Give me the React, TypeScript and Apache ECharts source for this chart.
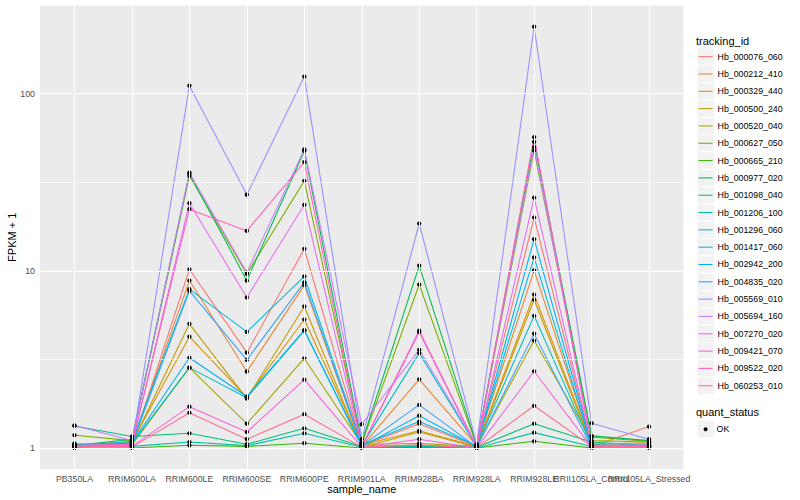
import React, { useEffect, useRef } from "react";
import * as echarts from "echarts";

const categories = [
  "PB350LA", "RRIM600LA", "RRIM600LE", "RRIM600SE", "RRIM600PE", "RRIM901LA",
  "RRIM928BA", "RRIM928LA", "RRIM928LE", "RRII105LA_Control", "RRII105LA_Stressed",
];

const trackingIds = [
  "Hb_000076_060", "Hb_000212_410", "Hb_000329_440", "Hb_000500_240", "Hb_000520_040",
  "Hb_000627_050", "Hb_000665_210", "Hb_000977_020", "Hb_001098_040", "Hb_001206_100",
  "Hb_001296_060", "Hb_001417_060", "Hb_002942_200", "Hb_004835_020", "Hb_005569_010",
  "Hb_005694_160", "Hb_007270_020", "Hb_009421_070", "Hb_009522_020", "Hb_060253_010",
];

const colors = [
  "#F8766D", "#EA8331", "#D89000", "#C09B00", "#A3A500", "#7CAE00", "#39B600", "#00BB4E",
  "#00BF7D", "#00C1A3", "#00BFC4", "#00BAE0", "#00B0F6", "#35A2FF", "#9590FF", "#C77CFF",
  "#E76BF3", "#FA62DB", "#FF62BC", "#FF6C91",
];

// FPKM + 1 per sample (order = categories)
const hb000076 = [1.02, 1.03, 10.2, 3.45, 13.3, 1.03, 1.37, 1.02, 20.0, 1.02, 1.32];
const hb000212 = [1.03, 1.05, 8.81, 2.70, 8.3, 1.02, 2.44, 1.03, 10.05, 1.04, 1.02];
const hb000329 = [1.04, 1.08, 4.25, 1.93, 5.31, 1.04, 1.25, 1.02, 7.35, 1.05, 1.07];
const hb000500 = [1.01, 1.06, 5.02, 1.90, 6.29, 1.01, 1.23, 1.01, 6.86, 1.03, 1.05];
const hb000520 = [1.05, 1.04, 2.84, 1.37, 3.20, 1.05, 1.06, 1.02, 4.04, 1.10, 1.08];
const hb000627 = [1.18, 1.10, 34.4, 9.6, 32.2, 1.06, 8.37, 1.03, 47.8, 1.15, 1.09];
const hb000665 = [1.00, 1.00, 1.035, 1.02, 1.063, 1.00, 1.01, 1.00, 1.09, 1.00, 1.00];
const hb000977 = [1.03, 1.12, 35.3, 8.8, 47.5, 1.07, 10.7, 1.04, 53.5, 1.17, 1.10];
const hb001098 = [1.33, 1.16, 1.21, 1.05, 1.29, 1.02, 1.03, 1.01, 1.37, 1.08, 1.03];
const hb001206 = [1.02, 1.02, 1.08, 1.03, 1.21, 1.01, 1.02, 1.00, 1.22, 1.02, 1.01];
const hb001296 = [1.04, 1.06, 2.84, 1.92, 4.60, 1.03, 3.43, 1.02, 5.57, 1.03, 1.04];
const hb001417 = [1.02, 1.09, 7.88, 4.52, 9.29, 1.04, 1.41, 1.03, 11.9, 1.02, 1.03];
const hb002942 = [1.03, 1.07, 3.23, 1.95, 4.62, 1.02, 1.52, 1.02, 15.1, 1.04, 1.02];
const hb004835 = [1.01, 1.05, 7.7, 3.14, 8.6, 1.03, 1.75, 1.01, 4.42, 1.01, 1.02];
const hb005569 = [1.06, 1.03, 111, 26.9, 125, 1.12, 18.5, 1.05, 239, 1.38, 1.12];
const hb005694 = [1.34, 1.10, 35.8, 9.78, 48.5, 1.36, 3.58, 1.04, 50.0, 1.06, 1.05];
const hb007270 = [1.02, 1.04, 24.1, 7.07, 23.6, 1.02, 4.50, 1.01, 25.9, 1.03, 1.03];
const hb009421 = [1.01, 1.02, 1.71, 1.23, 2.43, 1.01, 1.12, 1.00, 2.71, 1.01, 1.01];
const hb009522 = [1.03, 1.05, 22.3, 16.8, 41.1, 1.02, 4.60, 1.02, 56.9, 1.02, 1.02];
const hb060253 = [1.02, 1.01, 1.58, 1.12, 1.55, 1.01, 1.04, 1.00, 1.73, 1.02, 1.01];

const seriesValues = [
  hb000076, hb000212, hb000329, hb000500, hb000520, hb000627, hb000665, hb000977, hb001098, hb001206,
  hb001296, hb001417, hb002942, hb004835, hb005569, hb005694, hb007270, hb009421, hb009522, hb060253,
];

const yMajorTicks = [1, 10, 100];
const yMinorTicks = [3.16228, 31.6228];

const FONT = "'Liberation Sans', Arial, Helvetica, sans-serif";

export default function App() {
  const ref = useRef<HTMLDivElement>(null);

  useEffect(() => {
    const chart = echarts.init(ref.current as HTMLDivElement, null, { renderer: "svg" });

    const xIdx = categories.map((_, i) => i);
    const xEven = xIdx.filter((i) => i % 2 === 0);
    const xOdd = xIdx.filter((i) => i % 2 === 1);
    const yMajorLog = yMajorTicks.map((v) => Math.log10(v));
    const yMinorLog = yMinorTicks.map((v) => Math.log10(v));

    const gridLines: any[] = [
      ...yMinorLog.map((v) => ({ yAxis: v, lineStyle: { width: 0.55, color: "#FFFFFF", type: "solid" } })),
      ...yMajorLog.map((v) => ({ yAxis: v, lineStyle: { width: 1.07, color: "#FFFFFF", type: "solid" } })),
      ...xIdx.map((v) => ({ xAxis: v, lineStyle: { width: 1.07, color: "#FFFFFF", type: "solid" } })),
    ];

    const lineSeries = seriesValues.map((vals, i) => ({
      name: trackingIds[i],
      type: "line",
      xAxisIndex: 0,
      data: vals.map((v, j) => [j, Math.log10(v)]),
      symbol: "none",
      showSymbol: false,
      silent: true,
      z: 2,
      lineStyle: { width: 1.07, color: colors[i] },
      itemStyle: { color: colors[i] },
      emphasis: { disabled: true },
    }));

    const pointData: number[][] = [];
    seriesValues.forEach((vals) => vals.forEach((v, j) => pointData.push([j, Math.log10(v)])));

    const keyStep = 17.32;
    const key1Top = 48;
    const key2Top = 420.6;
    const keyRects: any[] = trackingIds.map((_, i) => ({
      type: "rect",
      z: 1,
      shape: { x: 697, y: key1Top + keyStep * i, width: keyStep, height: keyStep },
      style: { fill: "#F2F2F2", stroke: "#FFFFFF", lineWidth: 1 },
    }));
    keyRects.push({
      type: "rect",
      z: 1,
      shape: { x: 697, y: key2Top, width: keyStep, height: keyStep },
      style: { fill: "#F2F2F2", stroke: "#FFFFFF", lineWidth: 1 },
    });

    const xLabelStyle = {
      formatter: (v: number) => categories[Math.round(v)] ?? "",
      color: "#4D4D4D",
      fontSize: 8.8,
      fontFamily: FONT,
      margin: 5,
      hideOverlap: false,
      showMinLabel: true,
      showMaxLabel: true,
    };

    const option: any = {
      animation: false,
      backgroundColor: "#FFFFFF",
      textStyle: { fontFamily: FONT },
      grid: {
        left: 40,
        right: 116.5,
        top: 5.7,
        bottom: 31,
        show: true,
        backgroundColor: "#EBEBEB",
        borderWidth: 0,
      },
      xAxis: [
        {
          type: "value",
          position: "bottom",
          min: -0.6,
          max: 10.6,
          axisLine: { show: false },
          splitLine: { show: false },
          axisTick: {
            show: true,
            customValues: xIdx,
            length: 2.75,
            lineStyle: { color: "#333333", width: 1.07 },
          },
          axisLabel: { ...xLabelStyle, customValues: xEven },
        },
        {
          type: "value",
          position: "bottom",
          offset: 0,
          min: -0.6,
          max: 10.6,
          axisLine: { show: false },
          splitLine: { show: false },
          axisTick: { show: false },
          axisLabel: { ...xLabelStyle, customValues: xOdd },
        },
      ],
      yAxis: {
        type: "value",
        min: -0.119,
        max: 2.497,
        axisLine: { show: false },
        splitLine: { show: false },
        axisTick: {
          show: true,
          customValues: yMajorLog,
          length: 2.75,
          lineStyle: { color: "#333333", width: 1.07 },
        },
        axisLabel: {
          customValues: yMajorLog,
          formatter: (v: number) => String(Math.round(Math.pow(10, v))),
          color: "#4D4D4D",
          fontSize: 8.8,
          fontFamily: FONT,
          margin: 5,
          showMinLabel: true,
          showMaxLabel: true,
        },
      },
      legend: [
        {
          data: trackingIds,
          orient: "vertical",
          left: 698,
          top: key1Top,
          padding: 0,
          itemGap: 0,
          itemWidth: 14,
          itemHeight: keyStep,
          selectedMode: false,
          itemStyle: { opacity: 0 },
          lineStyle: { width: 1.07 },
          textStyle: { fontSize: 8.8, color: "#000000", fontFamily: FONT, lineHeight: keyStep },
        },
        {
          data: ["OK"],
          orient: "vertical",
          left: 703.6,
          top: key2Top + keyStep / 2 - 5.5,
          padding: 0,
          itemGap: 0,
          itemWidth: 4,
          itemHeight: 4,
          icon: "circle",
          selectedMode: false,
          textStyle: { fontSize: 8.8, color: "#000000", fontFamily: FONT, lineHeight: 11, padding: [0, 0, 0, 4] },
        },
      ],
      graphic: [
        ...keyRects,
        {
          type: "text",
          x: 696,
          y: 40.7,
          style: { text: "tracking_id", fontSize: 11, fontFamily: FONT, fill: "#000000", verticalAlign: "middle" },
        },
        {
          type: "text",
          x: 696,
          y: 412.3,
          style: { text: "quant_status", fontSize: 11, fontFamily: FONT, fill: "#000000", verticalAlign: "middle" },
        },
        {
          type: "text",
          x: 361.7,
          y: 489,
          style: { text: "sample_name", fontSize: 11, fontFamily: FONT, fill: "#000000", align: "center", verticalAlign: "middle" },
        },
        {
          type: "text",
          x: 12,
          y: 237.3,
          rotation: Math.PI / 2,
          style: { text: "FPKM + 1", fontSize: 11, fontFamily: FONT, fill: "#000000", align: "center", verticalAlign: "middle" },
        },
      ],
      series: [
        {
          type: "line",
          xAxisIndex: 0,
          data: [],
          silent: true,
          z: 1,
          markLine: {
            silent: true,
            symbol: ["none", "none"],
            label: { show: false },
            emphasis: { disabled: true },
            animation: false,
            data: gridLines,
          },
        },
        ...lineSeries,
        {
          name: "OK",
          type: "scatter",
          xAxisIndex: 0,
          data: pointData,
          symbol: "circle",
          symbolSize: 4.3,
          silent: true,
          z: 3,
          itemStyle: { color: "#000000", opacity: 1 },
          emphasis: { disabled: true },
        },
      ],
    };

    chart.setOption(option);
    return () => chart.dispose();
  }, []);

  return (
    <div
      ref={ref}
      style={{ position: "fixed", left: 0, top: 0, width: 800, height: 500, background: "#FFFFFF" }}
    />
  );
}
